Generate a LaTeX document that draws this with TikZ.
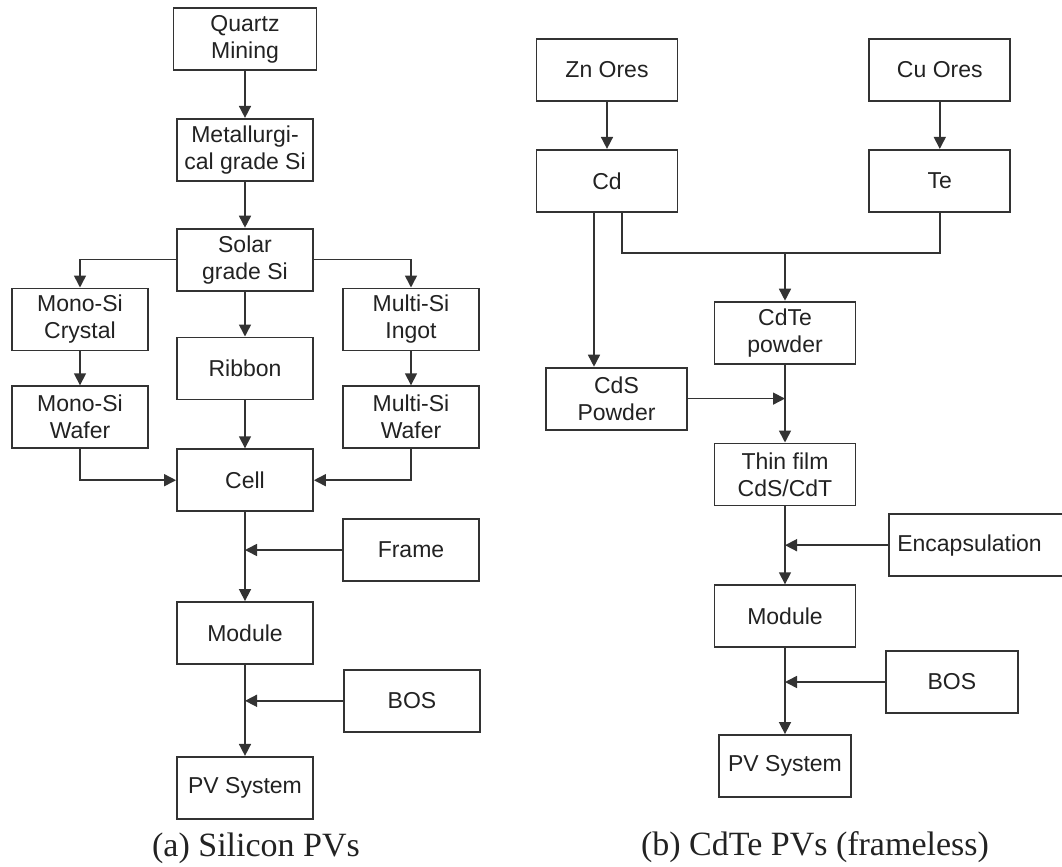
\documentclass[tikz,border=0pt]{standalone}
\usepackage{fontspec}
\setmainfont{Liberation Serif}
\setsansfont{Liberation Sans}
\usetikzlibrary{arrows.meta,positioning,calc}
\definecolor{Ink}{HTML}{222222}
\definecolor{Edge}{HTML}{333333}
\tikzset{
 box/.style={draw=Edge,line width=0.9pt,fill=white,align=center,font=\sffamily\fontsize{11.5}{13.5}\selectfont,text=Ink,minimum width=68pt,minimum height=31pt,inner sep=2pt},
 wbox/.style={box,minimum width=70.5pt},
 caption/.style={font=\fontsize{17}{20}\selectfont,text=Ink},
 arr/.style={-{Triangle[length=6pt,width=6pt]},line width=0.8pt,draw=Edge},
 link/.style={line width=0.8pt,draw=Edge}
}
\begin{document}
\begin{tikzpicture}
\path[clip,use as bounding box] (0,0) rectangle (531pt,-433.5pt);
% (a) silicon
\node[box,minimum width=71.5pt] (quartz) at (122.5pt,-19.5pt) {Quartz\\Mining};
\node[box,below=23.5pt of quartz] (metal) {Metallurgi-\\cal grade Si};
\node[box,below=23pt of metal] (solar) {Solar\\grade Si};
\node[box,below=22.5pt of solar] (ribbon) {Ribbon};
\node[box,below=24pt of ribbon] (cell) {Cell};
\node[box,below=44.5pt of cell] (module) {Module};
\node[box,below=45.5pt of module] (pv) {PV System};
\node[box,below=-2pt of solar.south,xshift=-82.5pt] (monoc) {Mono-Si\\Crystal};
\node[box,below=-2pt of solar.south,xshift=83pt] (multii) {Multi-Si\\Ingot};
\node[box,below=17pt of monoc] (monow) {Mono-Si\\Wafer};
\node[box,below=17pt of multii] (multiw) {Multi-Si\\Wafer};
\node[box,below=3pt of cell.south,xshift=83pt] (frame) {Frame};
\node[box,below=2pt of module.south,xshift=83.5pt] (bos) {BOS};
\node[caption,below=3pt of pv.south,xshift=5.5pt] (capa) {(a) Silicon PVs};
% (b) cdte
\node[wbox] (zn) at (303.5pt,-35pt) {Zn Ores};
\node[wbox,right=95pt of zn] (cu) {Cu Ores};
\node[wbox,below=23.5pt of zn] (cd) {Cd};
\node[wbox,below=23.5pt of cu] (te) {Te};
\node[wbox,below=44pt of cd.south,xshift=89pt] (cdte) {CdTe\\powder};
\node[wbox,below=77pt of cd,xshift=4.75pt] (cds) {CdS\\Powder};
\node[wbox,below=39pt of cdte] (thin) {Thin film\\CdS/CdT};
\node[box,below=3.5pt of thin.south east,anchor=north west,xshift=16pt,text width=90pt,align=left,inner xsep=4pt] (encap) {Encapsulation};
\node[wbox,below=39pt of thin] (modb) {Module};
\node[box,minimum width=66pt,below=1pt of modb.south east,anchor=north west,xshift=14.25pt] (bosb) {BOS};
\node[box,minimum width=66pt,below=43pt of modb] (pvb) {PV System};
\node[caption,below=13.5pt of pvb.south,xshift=15pt] (capb) {(b) CdTe PVs (frameless)};
% connectors
\foreach \a/\b in {quartz/metal,metal/solar,solar/ribbon,ribbon/cell,monoc/monow,multii/multiw,cell/module,module/pv,zn/cd,cu/te,cdte/thin,thin/modb,modb/pvb} \draw[arr] (\a)--(\b);
\draw[arr] (solar.west) -| (monoc.north);
\draw[arr] (solar.east) -| (multii.north);
\draw[arr] (monow.south) |- (cell.west);
\draw[arr] (multiw.south) |- (cell.east);
\coordinate (fj) at (frame.west -| cell.south);
\coordinate (bj) at (bos.west -| module.south);
\draw[arr] (frame.west) -- (fj);
\draw[arr] (bos.west) -- (bj);
\coordinate (cdl) at ([xshift=-6.5pt]cd.south);
\draw[arr] (cdl) -- (cdl |- cds.north);
\coordinate (mj) at ([yshift=24pt]cdte.north);
\draw[link] ([xshift=7.5pt]cd.south) |- (mj) -| (te.south);
\draw[arr] (mj) -- (cdte);
\coordinate (sj) at (cds.east -| cdte.south);
\coordinate (ej) at (encap.west -| thin.south);
\coordinate (bbj) at (bosb.west -| modb.south);
\draw[arr] (cds.east) -- (sj);
\draw[arr] (encap.west) -- (ej);
\draw[arr] (bosb.west) -- (bbj);
\end{tikzpicture}
\end{document}
